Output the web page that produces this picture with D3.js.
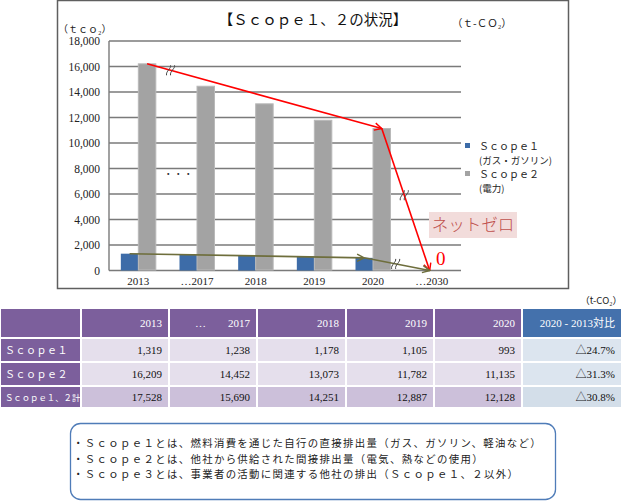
<!DOCTYPE html>
<html><head><meta charset="utf-8">
<script src="https://cdn.jsdelivr.net/npm/d3@7"></script>
<style>
body{margin:0;background:#fff;}
svg{display:block;}
text{font-family:"Liberation Serif","Noto Sans CJK JP",serif;}
</style></head>
<body>
<script>
// ---- data ----
const categories = ["2013","…2017","2018","2019","2020","…2030"];
const scope1 = [1319,1238,1178,1105,993,0];
const scope2 = [16209,14452,13073,11782,11135,0];
const yTicks = [0,2000,4000,6000,8000,10000,12000,14000,16000,18000];
const legendLabels = [["Ｓｃｏｐｅ１","(ガス・ガソリン)"],["Ｓｃｏｐｅ２","(電力)"]];

const tableHeaders = ["2013","…　　2017","2018","2019","2020","2020 - 2013対比"];
const tableRowLabels = ["Ｓｃｏｐｅ１","Ｓｃｏｐｅ２","Ｓｃｏｐｅ１、２計"];
const tableScope1 = [1319,1238,1178,1105,993];
const tableScope2 = [16209,14452,13073,11782,11135];
const tableTotal  = [17528,15690,14251,12887,12128];
const tableRatio  = ["△24.7%","△31.3%","△30.8%"];

const notes = [
 "・Ｓｃｏｐｅ１とは、燃料消費を通じた自行の直接排出量（ガス、ガソリン、軽油など）",
 "・Ｓｃｏｐｅ２とは、他社から供給された間接排出量（電気、熱などの使用）",
 "・Ｓｃｏｐｅ３とは、事業者の活動に関連する他社の排出（Ｓｃｏｐｅ１、２以外）"
];

// ---- chart ----
const W=625,H=502;
const svg=d3.select("body").append("svg").attr("width",W).attr("height",H);

// frame
svg.append("rect").attr("x",57.5).attr("y",0.5).attr("width",511).attr("height",288)
  .attr("fill","#fff").attr("stroke","#5f5f5f").attr("stroke-width",1.5);

const x=d3.scaleBand().domain(categories).range([109,461]).padding(0);
const y=d3.scaleLinear().domain([0,18000]).range([270.5,41]);
const bw=17.5;

// grid
svg.append("g").selectAll("line").data(yTicks).join("line")
  .attr("x1",109).attr("x2",461).attr("y1",d=>y(d)).attr("y2",d=>y(d))
  .attr("stroke","#7a7a7a").attr("stroke-width",1.4);
svg.append("line").attr("x1",109).attr("x2",109).attr("y1",y(18000)).attr("y2",y(0))
  .attr("stroke","#7a7a7a").attr("stroke-width",1.4);

// y axis labels
const ya=svg.append("g").attr("transform","translate(109,0)")
  .call(d3.axisLeft(y).tickValues(yTicks).tickFormat(d3.format(",")).tickSize(0).tickPadding(9));
ya.select(".domain").remove();
ya.selectAll("text").attr("font-size",11.5).attr("fill","#222")
  .style("font-family","'Liberation Serif',serif");

// x axis labels
const xa=svg.append("g").attr("transform",`translate(0,${y(0)})`)
  .call(d3.axisBottom(x).tickSize(0).tickPadding(7));
xa.select(".domain").remove();
xa.selectAll("text").attr("font-size",11).attr("fill","#222")
  .style("font-family","'Liberation Serif','Noto Sans CJK JP',serif");

// bars
const idx=d3.range(categories.length);
svg.append("g").selectAll("rect").data(idx).join("rect")
  .attr("x",i=>x(categories[i])+x.bandwidth()/2-bw).attr("width",bw)
  .attr("y",i=>y(scope1[i])).attr("height",i=>y(0)-y(scope1[i]))
  .attr("fill","#3d6ca8");
svg.append("g").selectAll("rect").data(idx).join("rect")
  .attr("x",i=>x(categories[i])+x.bandwidth()/2).attr("width",bw)
  .attr("y",i=>y(scope2[i])).attr("height",i=>Math.max(0,y(0)-y(scope2[i])-0.5))
  .attr("fill","#a3a3a3").attr("stroke","#b9b9b9").attr("stroke-width",1);

// "・・・"
svg.append("text").attr("x",x(categories[1])+x.bandwidth()*0.19)
  .attr("y",y(7300)).attr("font-size",9).attr("text-anchor","middle").attr("fill","#333")
  .style("letter-spacing","1px").text("・・・");

// arrow markers
const defs=svg.append("defs");
function marker(id,color){
  defs.append("marker").attr("id",id).attr("viewBox","0 0 10 10").attr("refX",9).attr("refY",5)
   .attr("markerWidth",9).attr("markerHeight",9).attr("markerUnits","userSpaceOnUse").attr("orient","auto")
   .append("path").attr("d","M1,1 L9,5 L1,9").attr("fill","none").attr("stroke",color).attr("stroke-width",1.6);
}
marker("ar","#ff0000");
marker("ao","#6e6e3c");

const cx=c=>x(c)+x.bandwidth()/2;
const i13=0,i20=4,i30=5;
const redPts=[[cx(categories[i13])+bw/2,y(scope2[i13])],[cx(categories[i20])+bw/2,y(scope2[i20])],[cx(categories[i30])-2,y(scope2[i30])]];
const olvPts=[[cx(categories[i13])-bw/2,y(scope1[i13])],[cx(categories[i20])-bw/2,y(scope1[i20])],[cx(categories[i30])-2,y(scope1[i30])]];

function seg(p,q,color,m){
  svg.append("line").attr("x1",p[0]).attr("y1",p[1]).attr("x2",q[0]).attr("y2",q[1])
   .attr("stroke",color).attr("stroke-width",1.6).attr("marker-end",`url(#${m})`);
}
seg(redPts[0],redPts[1],"#ff0000","ar");
seg(redPts[1],redPts[2],"#ff0000","ar");
seg(olvPts[0],olvPts[1],"#6e6e3c","ao");
seg(olvPts[1],olvPts[2],"#6e6e3c","ao");

// break marks
function brk(p,q,t){
  const bx=p[0]+(q[0]-p[0])*t, by=p[1]+(q[1]-p[1])*t;
  const g=svg.append("g").attr("transform",`translate(${bx},${by})`);
  [-2,2].forEach(o=>{
    g.append("path").attr("d",`M${o+2},-5 C${o+3},-2 ${o-3},1 ${o-2},5`)
     .attr("fill","none").attr("stroke","#444").attr("stroke-width",1);
  });
}
brk(redPts[0],redPts[1],0.1);
brk(redPts[1],redPts[2],0.47);
brk(olvPts[1],olvPts[2],0.48);

// net zero label
svg.append("rect").attr("x",429).attr("y",212).attr("width",88).attr("height",26).attr("fill","#f2dcdb");
svg.append("text").attr("x",473).attr("y",231).attr("text-anchor","middle").attr("font-size",16.5)
  .attr("fill","#c0504d").style("font-family","'Noto Sans CJK JP'").style("font-weight",300).text("ネットゼロ");
svg.append("text").attr("x",436).attr("y",265).attr("font-size",19).attr("fill","#ff0000").text("0");

// title & units
svg.append("text").attr("x",313).attr("y",25).attr("text-anchor","middle").attr("font-size",14.5)
  .attr("fill","#111").style("font-family","'Noto Sans CJK JP'").text("【Ｓｃｏｐｅ１、２の状況】");
svg.append("text").attr("x",452).attr("y",27).attr("font-size",10.5).attr("fill","#222")
  .style("font-family","'Noto Sans CJK JP'").text("（ｔ-ＣＯ₂）");
svg.append("text").attr("x",58).attr("y",33).attr("font-size",10).attr("fill","#222")
  .style("font-family","'Noto Sans CJK JP'").text("（ｔｃｏ₂）");

// legend
const legColors=["#3d6ca8","#a3a3a3"];
legendLabels.forEach((l,i)=>{
  const ly=146+i*28;
  svg.append("rect").attr("x",465).attr("y",ly-3).attr("width",5).attr("height",5).attr("fill",legColors[i]);
  svg.append("text").attr("x",479).attr("y",ly+3.5).attr("font-size",10).attr("fill","#222")
   .style("font-family","'Noto Sans CJK JP'").text(l[0]);
  svg.append("text").attr("x",479).attr("y",ly+18).attr("font-size",9.5).attr("fill","#222")
   .style("font-family","'Noto Sans CJK JP'").text(l[1]);
});

// ---- table ----
svg.append("text").attr("x",622).attr("y",304).attr("text-anchor","end").attr("font-size",9.5)
  .attr("fill","#222").style("font-family","'Noto Sans CJK JP'").text("（t-CO₂）");

const colX=[1,82,170,258,347,435,523,623];
const rowY=[309,339,363,387,409];
const purple="#7c5f9c", light="#e5dfec", mid="#ccc0da", blueH="#4471ac", blueL="#dce5ef", blueM="#d3dee9";
const tableData=[tableScope1,tableScope2,tableTotal];
const fmt=d3.format(",");

function cell(c,r,fill){
  svg.append("rect").attr("x",colX[c]).attr("y",rowY[r]).attr("width",colX[c+1]-colX[c]-2)
   .attr("height",rowY[r+1]-rowY[r]-2).attr("fill",fill);
}
function ctext(c,r,txt,color,size,fam){
  svg.append("text").attr("x",colX[c+1]-2-6).attr("y",(rowY[r]+rowY[r+1]-2)/2+4)
   .attr("text-anchor","end").attr("font-size",size||11).attr("fill",color)
   .style("font-family",fam||"'Liberation Serif','Noto Sans CJK JP',serif").text(txt);
}
// header
for(let c=0;c<7;c++) cell(c,0,c===6?blueH:purple);
tableHeaders.forEach((h,i)=>ctext(i+1,0,h,"#fff",11));
// rows
for(let r=0;r<3;r++){
  cell(0,r+1,purple);
  svg.append("text").attr("x",5).attr("y",(rowY[r+1]+rowY[r+2]-2)/2+4).attr("font-size",r===2?8.4:10)
   .attr("fill","#fff").style("font-family","'Noto Sans CJK JP'").style("letter-spacing",r===2?"0px":"0.5px")
   .text(tableRowLabels[r]);
  for(let c=1;c<=5;c++){
    cell(c,r+1,r===2?mid:light);
    ctext(c,r+1,fmt(tableData[r][c-1]),"#111",11);
  }
  cell(6,r+1,r===2?blueM:blueL);
  ctext(6,r+1,tableRatio[r],"#111",11);
}

// ---- notes box ----
svg.append("rect").attr("x",70.5).attr("y",423.5).attr("width",485).attr("height",76).attr("rx",10)
  .attr("fill","#fff").attr("stroke","#4f7cb8").attr("stroke-width",1.3);
notes.forEach((t,i)=>{
  svg.append("text").attr("x",73).attr("y",447+i*15.5).attr("font-size",10.4).attr("fill","#222")
   .style("font-family","'Noto Sans CJK JP'").style("letter-spacing","1.35px").text(t);
});
</script>
</body></html>
